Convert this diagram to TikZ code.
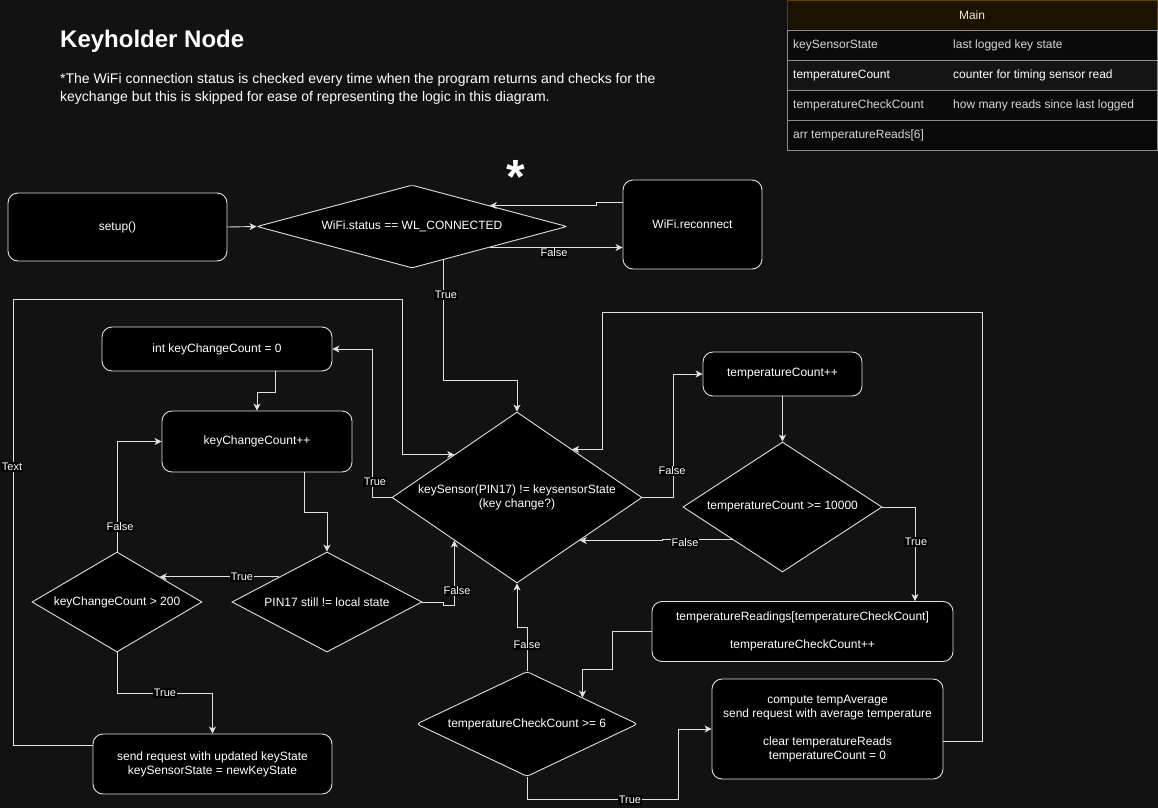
\documentclass[tikz,border=0pt]{standalone}
\usepackage{fontspec}
\setmainfont{Liberation Sans}
\usetikzlibrary{shapes.geometric,arrows.meta,calc}
\definecolor{bg}{RGB}{18,18,18}
\definecolor{ln}{RGB}{225,225,225}
\definecolor{hdrfill}{RGB}{28,18,0}
\definecolor{hdrline}{RGB}{96,64,0}
\definecolor{rowline}{RGB}{140,140,140}
\definecolor{rowdark}{RGB}{10,10,10}
\definecolor{rowmid}{RGB}{20,20,20}
\definecolor{celltxt}{RGB}{215,215,215}
\definecolor{hdrtxt}{RGB}{240,232,215}
\begin{document}
\begin{tikzpicture}[x=1pt,y=-1pt,
  box/.style={draw=ln, fill=black, rounded corners=10pt, line width=0.9pt, text=white, font=\fontsize{12}{14}\selectfont, align=center, inner sep=0pt},
  dia/.style={diamond, draw=ln, fill=black, line width=0.9pt, inner sep=0pt, aspect=1},
  dtxt/.style={text=white, font=\fontsize{12}{14}\selectfont, align=center, inner sep=0pt},
  arr/.style={draw=ln, line width=0.9pt, -{Stealth[length=7pt,width=7pt,inset=2pt]}},
  lbl/.style={fill=black, text=white, font=\fontsize{11}{12}\selectfont, inner sep=1pt},
  cell/.style={anchor=west, font=\fontsize{12}{14}\selectfont, inner sep=0pt, text=celltxt},
  head/.style={text=white, inner sep=0pt}]
\useasboundingbox (0,0) rectangle (1158,808);
\fill[bg] (0,0) rectangle (1158,808);

% heading
\node[head, anchor=base west, font=\fontsize{24}{28}\selectfont\bfseries] (title) at (60,48) {Keyholder Node};
\node[head, anchor=base west, font=\fontsize{14}{18}\selectfont] (note1) at (60,83) {*The WiFi connection status is checked every time when the program returns and checks for the};
\node[head, anchor=base west, font=\fontsize{14}{18}\selectfont] (note2) at (60,101) {keychange but this is skipped for ease of representing the logic in this diagram.};
\node[head, anchor=base, font=\fontsize{48}{48}\selectfont\bfseries] (star) at (516,193) {*};

% table
\fill[rowdark] (787,30) rectangle (1157,150);
\fill[rowmid] (787,60) rectangle (1157,90);
\draw[hdrline, fill=hdrfill] (787,0.5) rectangle (1157,30);
\draw[rowline] (787,30) rectangle (1157,150);
\draw[rowline] (787,60) -- (1157,60);
\draw[rowline] (787,90) -- (1157,90);
\draw[rowline] (787,120) -- (1157,120);
\node[font=\fontsize{12}{14}\selectfont, text=hdrtxt, inner sep=0pt] (tmain) at (972,15.5) {Main};
\node[cell] (c11) at (793,45.5) {keySensorState};
\node[cell] (c12) at (953,45.5) {last logged key state};
\node[cell, text=white] (c21) at (793,75.5) {temperatureCount};
\node[cell, text=white] (c22) at (953,75.5) {counter for timing sensor read};
\node[cell] (c31) at (793,105.5) {temperatureCheckCount};
\node[cell] (c32) at (953,105.5) {how many reads since last logged};
\node[cell] (c41) at (793,135.5) {arr temperatureReads[6]};

% nodes
\node[box, minimum width=219pt, minimum height=68pt] (setup) at (117.5,227) {setup()};
\node[dia, minimum width=310pt, minimum height=83pt, rounded corners=2pt] (wifi) at (412,226.5) {};
\node[dtxt] (wifit) at (wifi) {WiFi.status == WL\_CONNECTED};
\node[box, minimum width=139pt, minimum height=89pt] (rc) at (692.5,224.5) {WiFi.reconnect};
\node[dia, minimum width=250pt, minimum height=171pt] (ks) at (517,497.5) {};
\node[dtxt] (kst) at (ks) {keySensor(PIN17) != keysensorState\\(key change?)};
\node[box, minimum width=230pt, minimum height=44pt] (int) at (217,349) {int keyChangeCount = 0};
\node[box, minimum width=190pt, minimum height=61pt] (kc) at (257,441.5) {keyChangeCount++};
\node[dia, minimum width=190pt, minimum height=100pt] (pin) at (327,602) {};
\node[dtxt] (pint) at (pin) {PIN17 still != local state};
\node[dia, minimum width=170pt, minimum height=100pt] (kcc) at (117,602) {};
\node[dtxt] (kcct) at (kcc) {keyChangeCount > 200};
\node[box, minimum width=239pt, minimum height=60pt] (send) at (212.5,764) {send request with updated keyState\\keySensorState = newKeyState};
\node[box, minimum width=159pt, minimum height=44pt] (tc) at (782.5,374) {temperatureCount++};
\node[dia, minimum width=199pt, minimum height=130pt] (tk) at (782.5,507) {};
\node[dtxt] (tkt) at (tk) {temperatureCount >= 10000};
\node[box, minimum width=301pt, minimum height=60pt] (tr) at (802.5,631.5) {temperatureReadings[temperatureCheckCount]\\[14pt]temperatureCheckCount++};
\node[dia, minimum width=221pt, minimum height=105pt, rounded corners=3pt] (tcc) at (527,724) {};
\node[dtxt] (tcct) at (tcc) {temperatureCheckCount >= 6};
\node[box, minimum width=231pt, minimum height=100pt] (comp) at (827.5,729) {compute tempAverage\\send request with average temperature\\[14pt]clear temperatureReads\\temperatureCount = 0};

% connectors
\draw[arr] (setup.east) -- (wifi.west);
\draw[arr] ($(rc.west)!0.5!(rc.north west)$) -- ++(-26,0) |- (wifi.north east);
\draw[arr] (wifi.south east) -- (wifi.south east -| rc.west);
\node[lbl] (lf1) at (554,253) {False};
\draw[arr] ($(wifi.south)!0.2!(wifi.east)$) -- ++(0,120) -| (ks.north);
\node[lbl] (lt1) at (446,295) {True};

\draw[arr] ($(send.west)+(0,-19)$) -- (13,745) -- (13,299) -- (402,299) |- (ks.north west);
\node[lbl] (ltx) at (12,467) {Text};

\draw[arr] (ks.west) -- ++(-19,0) |- (int.east);
\node[lbl] (lt2) at (375,482) {True};
\draw[arr] ($(int.south)+(58,0)$) -- ++(0,21) -| (kc.north);
\draw[arr] ($(kc.south)+(47.5,0)$) -- ++(0,39.5) -| (pin.north);
\draw[arr] (pin.north west) -- (kcc.north east);
\node[lbl] (lt3) at (242,577) {True};
\draw[arr] (kcc.north) |- (kc.west);
\node[lbl] (lf2) at (120,527) {False};
\draw[arr] (kcc.south) -- ++(0,41) -| (send.north);
\node[lbl] (lt4) at (165,693) {True};
\draw[arr] (pin.east) -- ++(21,0) -- ++(0,3) -| (ks.south west);
\node[lbl] (lf3) at (457,591) {False};

\draw[arr] (ks.east) -- ++(31,0) |- (tc.west);
\node[lbl] (lf4) at (672,471) {False};
\draw[arr] (tc.south) -- (tk.north);
\draw[arr] (tk.south west) -- ++(-70,0) |- (ks.south east);
\node[lbl] (lf5) at (685,543) {False};
\draw[arr] (tk.east) -| ($(tr.north)+(112.5,0)$);
\node[lbl] (lt5) at (916,542) {True};
\draw[arr] (tr.west) -- ++(-39,0) -- ++(0,38) -| (tcc.north east);
\draw[arr] (tcc.north) -- ++(0,-44) -| (ks.south);
\node[lbl] (lf6) at (527,645) {False};
\draw[arr] (tcc.south) -- ++(0,22) -- ++(151,0) |- (comp.west);
\node[lbl] (lt6) at (630,800) {True};
\draw[arr] ($(comp.east)+(0,12)$) -- (982,741) -- (982,312) -- (602,312) |- ($(ks.north)!0.44!(ks.east)$);
\end{tikzpicture}
\end{document}
